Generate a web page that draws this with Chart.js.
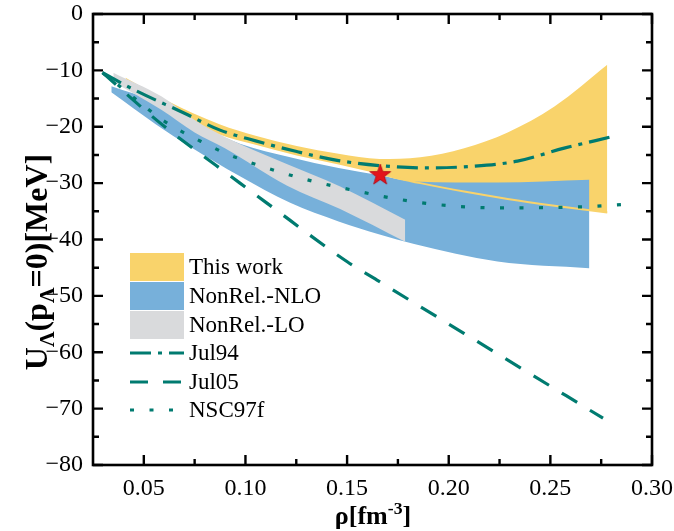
<!DOCTYPE html>
<html><head><meta charset="utf-8">
<script src="https://cdn.jsdelivr.net/npm/chart.js@4/dist/chart.umd.min.js"></script>
<style>html,body{margin:0;padding:0;background:#fff}</style>
</head><body>
<canvas id="c" width="674" height="531"></canvas>
<script>
// ---------------- data ----------------
const xTicks = [0.05, 0.10, 0.15, 0.20, 0.25, 0.30];
const xMinorTicks = [0.075, 0.125, 0.175, 0.225, 0.275];
const yTicks = [-80, -70, -60, -50, -40, -30, -20, -10, 0];
const yMinorTicks = [-75, -65, -55, -45, -35, -25, -15, -5];

const thisWorkX     = [0.041, 0.061, 0.0875, 0.105, 0.1252, 0.1458, 0.166, 0.186, 0.2076, 0.229, 0.252, 0.278];
const thisWorkUpper = [-11.3, -15.3, -19.6, -21.6, -23.4, -24.8, -25.7, -25.4, -23.8, -21.0, -16.4, -9.0];
const thisWorkLower = [-12.6, -16.9, -21.4, -23.2, -25.1, -26.7, -28.4, -30.0, -31.5, -32.8, -34.0, -35.2];

const nloX     = [0.034, 0.056, 0.0726, 0.0973, 0.122, 0.1458, 0.166, 0.183, 0.224, 0.2692];
const nloUpper = [-12.8, -15.6, -19.0, -23.0, -25.4, -27.3, -28.6, -29.7, -29.9, -29.4];
const nloLower = [-13.9, -19.6, -23.5, -28.8, -33.5, -36.8, -39.1, -40.8, -43.9, -45.1];

const loX     = [0.035, 0.0586, 0.075, 0.0899, 0.1203, 0.1466, 0.1786];
const loUpper = [-10.4, -14.6, -18.8, -21.8, -26.6, -30.6, -36.5];
const loLower = [-12.0, -17.0, -21.0, -23.8, -30.4, -34.6, -40.4];

const jul94X = [0.0297, 0.045, 0.07, 0.0875, 0.105, 0.1252, 0.1458, 0.1663, 0.189, 0.2125, 0.2338, 0.2568, 0.2799];
const jul94Y = [-10.4, -13.4, -17.6, -20.6, -22.5, -24.4, -26.0, -26.9, -27.3, -27.0, -26.1, -23.8, -21.8];

const jul05X = [0.0297, 0.0569, 0.0973, 0.1104, 0.1499, 0.1647, 0.22, 0.2759];
const jul05Y = [-10.4, -19.0, -30.0, -33.5, -43.9, -47.2, -59.4, -71.7];

const nscX = [0.0297, 0.045, 0.06, 0.0825, 0.0907, 0.1104, 0.1293, 0.1482, 0.1869, 0.2264, 0.2659, 0.2856];
const nscY = [-10.4, -14.8, -19.0, -23.4, -24.8, -27.3, -29.3, -30.9, -33.5, -34.4, -34.2, -33.8];

const starX = [0.1663];
const starY = [-28.4];

const legendLabels = ['This work', 'NonRel.-NLO', 'NonRel.-LO', 'Jul94', 'Jul05', 'NSC97f'];

// ---------------- styles ----------------
const YEL = '#f9d36b', BLUE = '#77b0da', GRAY = '#d9dadc', TEAL = '#007b70';
const FONT = "'Liberation Serif', 'Times New Roman', serif";
const DASH94 = [21, 7, 4, 7], DASH05 = [18, 15], DOT = [4, 15.5];
const LW = 3.2;

const pts = (xs, ys) => xs.map((x, i) => ({x: x, y: ys[i]}));

const starImg = document.createElement('canvas');
starImg.width = 24; starImg.height = 24;
(function () {
  const g = starImg.getContext('2d');
  g.beginPath();
  for (let i = 0; i < 10; i++) {
    const r = i % 2 === 0 ? 11 : 4.4;
    const a = -Math.PI / 2 + i * Math.PI / 5;
    const px = 12 + r * Math.cos(a), py = 13 + r * Math.sin(a);
    if (i === 0) g.moveTo(px, py); else g.lineTo(px, py);
  }
  g.closePath();
  g.fillStyle = '#e3141b'; g.fill();
  g.strokeStyle = '#b00010'; g.lineWidth = 0.8; g.stroke();
})();

const band = (data, extra) => Object.assign({data: data, borderWidth: 0, pointRadius: 0, fill: false}, extra);

const datasets = [
  band(pts(thisWorkX, thisWorkUpper), {label: 'tw-up', order: 100}),
  band(pts(thisWorkX, thisWorkLower), {label: 'tw-lo', order: 99, fill: '-1', backgroundColor: YEL}),
  band(pts(nloX, nloUpper), {label: 'nlo-up', order: 98}),
  band(pts(nloX, nloLower), {label: 'nlo-lo', order: 97, fill: '-1', backgroundColor: BLUE}),
  band(pts(loX, loUpper), {label: 'lo-up', order: 96}),
  band(pts(loX, loLower), {label: 'lo-lo', order: 95, fill: '-1', backgroundColor: GRAY}),
  {label: 'tw-edge', data: pts(thisWorkX.slice(6), thisWorkLower.slice(6)), borderColor: YEL, borderWidth: 2, pointRadius: 0, fill: false, order: 50},
  {label: 'Jul05', data: pts(jul05X, jul05Y), borderColor: TEAL, borderWidth: LW, borderDash: DASH05, pointRadius: 0, fill: false, order: 4},
  {label: 'Jul94', data: pts(jul94X, jul94Y), borderColor: TEAL, borderWidth: LW, borderDash: DASH94, pointRadius: 0, fill: false, order: 3},
  {label: 'NSC97f', data: pts(nscX, nscY), borderColor: TEAL, borderWidth: LW, borderDash: DOT, pointRadius: 0, fill: false, order: 2},
  {label: 'star', data: pts(starX, starY), showLine: false, pointStyle: starImg, pointRadius: 11, order: 0}
];

const decor = {
  id: 'decor',
  afterDatasetsDraw(chart) {
    const ctx = chart.ctx, a = chart.chartArea, xs = chart.scales.x, ys = chart.scales.y;
    ctx.save();
    // frame
    ctx.strokeStyle = '#000'; ctx.lineWidth = 2.6; ctx.lineCap = 'square';
    ctx.strokeRect(a.left, a.top, a.right - a.left, a.bottom - a.top);
    ctx.lineWidth = 2.4; ctx.lineCap = 'butt';
    const vt = (v, len) => { const p = xs.getPixelForValue(v);
      ctx.beginPath(); ctx.moveTo(p, a.bottom); ctx.lineTo(p, a.bottom - len);
      ctx.moveTo(p, a.top); ctx.lineTo(p, a.top + len); ctx.stroke(); };
    const ht = (v, len) => { const p = ys.getPixelForValue(v);
      ctx.beginPath(); ctx.moveTo(a.left, p); ctx.lineTo(a.left + len, p);
      ctx.moveTo(a.right, p); ctx.lineTo(a.right - len, p); ctx.stroke(); };
    xTicks.forEach(v => vt(v, 10)); xMinorTicks.forEach(v => vt(v, 6));
    yTicks.forEach(v => ht(v, 10)); yMinorTicks.forEach(v => ht(v, 6));

    // legend
    const lx = 130, lw = 54, tx = 189;
    const boxes = [[YEL, 253, 28], [BLUE, 282, 28], [GRAY, 311, 28]];
    ctx.font = '23px ' + FONT; ctx.fillStyle = '#000'; ctx.textBaseline = 'middle'; ctx.textAlign = 'left';
    boxes.forEach((b, i) => {
      ctx.fillStyle = b[0]; ctx.fillRect(lx, b[1], lw, b[2]);
      ctx.fillStyle = '#000'; ctx.fillText(legendLabels[i], tx, b[1] + b[2] / 2 + 1);
    });
    const lines = [[DASH94, 353], [DASH05, 382], [DOT, 410]];
    lines.forEach((l, i) => {
      ctx.strokeStyle = TEAL; ctx.lineWidth = LW; ctx.setLineDash(l[0]);
      ctx.beginPath(); ctx.moveTo(lx, l[1]); ctx.lineTo(lx + lw, l[1]); ctx.stroke();
      ctx.setLineDash([]);
      ctx.fillStyle = '#000'; ctx.fillText(legendLabels[3 + i], tx, l[1] + 1);
    });

    // axis titles
    const rich = (parts, size) => {
      let w = 0;
      parts.forEach(p => { ctx.font = 'bold ' + (size * (p.s ? 0.68 : 1)) + 'px ' + FONT; p.w = ctx.measureText(p.t).width; w += p.w; });
      return w;
    };
    const drawRich = (parts, size, cx, base) => {
      const w = rich(parts, size); let x = cx - w / 2;
      ctx.textAlign = 'left'; ctx.textBaseline = 'alphabetic'; ctx.fillStyle = '#000';
      parts.forEach(p => { ctx.font = 'bold ' + (size * (p.s ? 0.68 : 1)) + 'px ' + FONT;
        ctx.fillText(p.t, x, base + (p.s || 0)); x += p.w; });
    };
    drawRich([{t: 'ρ[fm'}, {t: '-3', s: -10}, {t: ']'}], 26, 373, 524);
    ctx.save();
    ctx.translate(47, 262); ctx.rotate(-Math.PI / 2);
    drawRich([{t: 'U'}, {t: 'Λ', s: 7}, {t: '(p'}, {t: 'Λ', s: 7}, {t: '=0)[MeV]'}], 32, 0, 0);
    ctx.restore();
    ctx.restore();
  }
};

Chart.defaults.font.family = FONT;
new Chart(document.getElementById('c'), {
  type: 'line',
  data: {datasets: datasets},
  options: {
    responsive: false, animation: false, devicePixelRatio: 1,
    layout: {padding: {top: 14, right: 22, left: 0, bottom: 0}},
    elements: {line: {cubicInterpolationMode: 'monotone'}},
    plugins: {legend: {display: false}, tooltip: {enabled: false}, filler: {propagate: false}},
    scales: {
      x: {type: 'linear', min: 0.025, max: 0.30,
        grid: {display: false, drawTicks: false}, border: {display: false},
        afterBuildTicks: s => { s.ticks = xTicks.map(v => ({value: v})); },
        afterFit: s => { s.height = 66; s.paddingLeft = 0; s.paddingRight = 0; },
        ticks: {padding: 9, color: '#000', font: {size: 24, family: FONT}, maxRotation: 0, callback: v => Number(v).toFixed(2)}},
      y: {type: 'linear', min: -80, max: 0,
        grid: {display: false, drawTicks: false}, border: {display: false},
        afterBuildTicks: s => { s.ticks = yTicks.map(v => ({value: v})); },
        afterFit: s => { s.width = 93; s.paddingTop = 0; s.paddingBottom = 0; },
        ticks: {padding: 10, color: '#000', font: {size: 24, family: FONT}, callback: v => v < 0 ? '\u2212' + Math.abs(v) : String(v)}}
    }
  },
  plugins: [decor]
});
</script>
</body></html>
